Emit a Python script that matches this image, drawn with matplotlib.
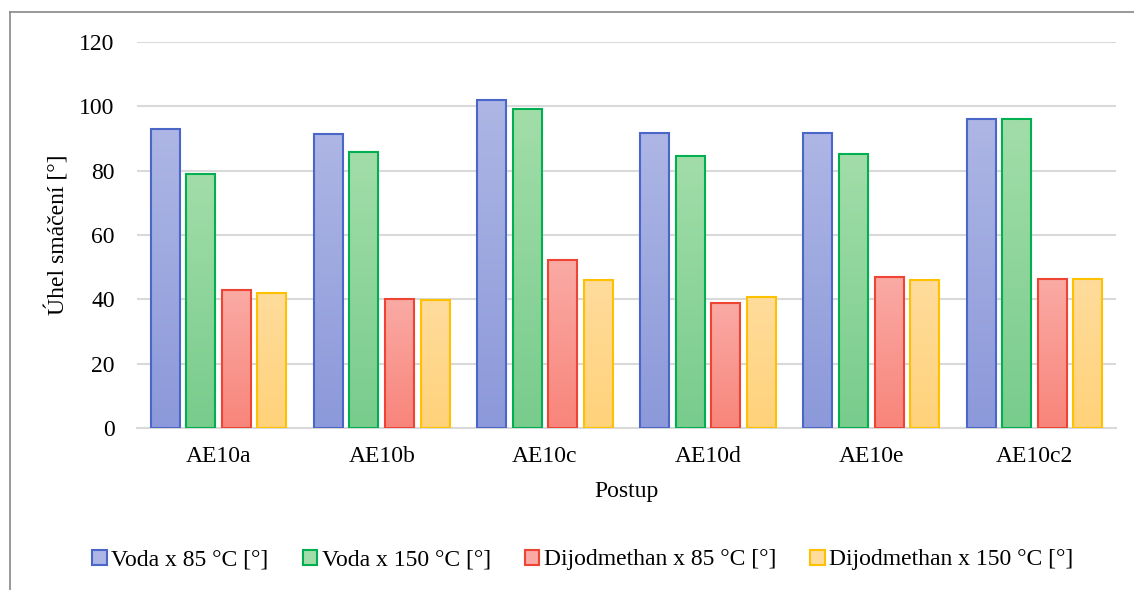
import numpy as np
import matplotlib
matplotlib.use('Agg')
import matplotlib.pyplot as plt
from matplotlib.patches import Patch
from matplotlib.lines import Line2D

plt.rcParams['font.family'] = ['Liberation Serif', 'DejaVu Serif']

postup = ['AE10a', 'AE10b', 'AE10c', 'AE10d', 'AE10e', 'AE10c2']
voda_85 = [92.8, 91.4, 102.1, 91.8, 91.7, 96.1]
voda_150 = [79.1, 85.7, 99.2, 84.5, 85.1, 96.0]
dijod_85 = [43.0, 40.2, 52.1, 38.8, 46.8, 46.2]
dijod_150 = [42.0, 39.7, 45.9, 40.6, 46.1, 46.4]
nazvy = ['Voda x 85 °C [°]', 'Voda x 150 °C [°]',
         'Dijodmethan x 85 °C [°]', 'Dijodmethan x 150 °C [°]']

# okraj, vypln nahore, vypln dole
barvy = [('#4A66C8', '#ADB6E4', '#8C99DA'),
         ('#00B050', '#A2DDA9', '#78CC8C'),
         ('#EE4433', '#FAAAA4', '#F8857B'),
         ('#FFC000', '#FFDC9C', '#FFD27A')]

fs = 17

fig = plt.figure(figsize=(11.34, 5.90), dpi=100)
ax = fig.add_axes([137/1134, 1 - 428/590, (1116 - 137)/1134, (428 - 42)/590])

x = np.arange(len(postup))
slot = 0.218
sirka = 0.178
serie = [voda_85, voda_150, dijod_85, dijod_150]


def hex2rgb(c):
    c = c.lstrip('#')
    return np.array([int(c[i:i+2], 16) for i in (0, 2, 4)]) / 255.0


for i, hodnoty in enumerate(serie):
    okraj, horni, dolni = barvy[i]
    pos = x + (i - 1.5) * slot
    bars = ax.bar(pos, hodnoty, width=sirka, facecolor='none',
                  edgecolor=okraj, linewidth=1.5, zorder=3)
    t = np.linspace(0, 1, 64)[:, None]
    grad = (1 - t) * hex2rgb(horni) + t * hex2rgb(dolni)
    grad = grad[:, None, :]
    for b in bars:
        x0 = b.get_x()
        h = b.get_height()
        im = ax.imshow(grad, extent=(x0, x0 + b.get_width(), 0, h),
                       aspect='auto', origin='upper', zorder=2,
                       interpolation='bilinear')
        im.set_clip_path(b)

ax.set_xlim(-0.5, len(postup) - 0.5)
ax.set_ylim(0, 120)
ax.set_yticks(np.arange(0, 121, 20))
ax.set_xticks(x)
ax.set_xticklabels(postup)
ax.yaxis.grid(True, color='#D9D9D9', linewidth=1.5, zorder=0)
ax.set_axisbelow(True)
for s in ['top', 'right', 'left']:
    ax.spines[s].set_visible(False)
ax.spines['bottom'].set_color('#D9D9D9')
ax.spines['bottom'].set_linewidth(1.5)
ax.tick_params(axis='both', length=0, labelsize=fs, colors='#000000')
ax.tick_params(axis='y', pad=16)
ax.tick_params(axis='x', pad=13)

ax.set_xlabel('Postup', fontsize=fs, labelpad=10)
ax.set_ylabel('Úhel smáčení [°]', fontsize=fs, labelpad=7)

handles = [Patch(facecolor=barvy[i][1], edgecolor=barvy[i][0], linewidth=1.5)
           for i in range(4)]
fig.legend(handles, nazvy, loc='center', bbox_to_anchor=(583/1134, 1 - 560/590),
           ncol=4, frameon=False, fontsize=fs, handlelength=0.6,
           handleheight=0.6, handletextpad=0.2, columnspacing=1.45)

# ramecek grafu
fig.add_artist(Line2D([10/1134, 10/1134], [0, 1 - 12/590], color='#888888',
                      linewidth=1.2, transform=fig.transFigure))
fig.add_artist(Line2D([10/1134, 1], [1 - 12/590, 1 - 12/590], color='#888888',
                      linewidth=1.2, transform=fig.transFigure))

fig.savefig('out.png', dpi=100)
